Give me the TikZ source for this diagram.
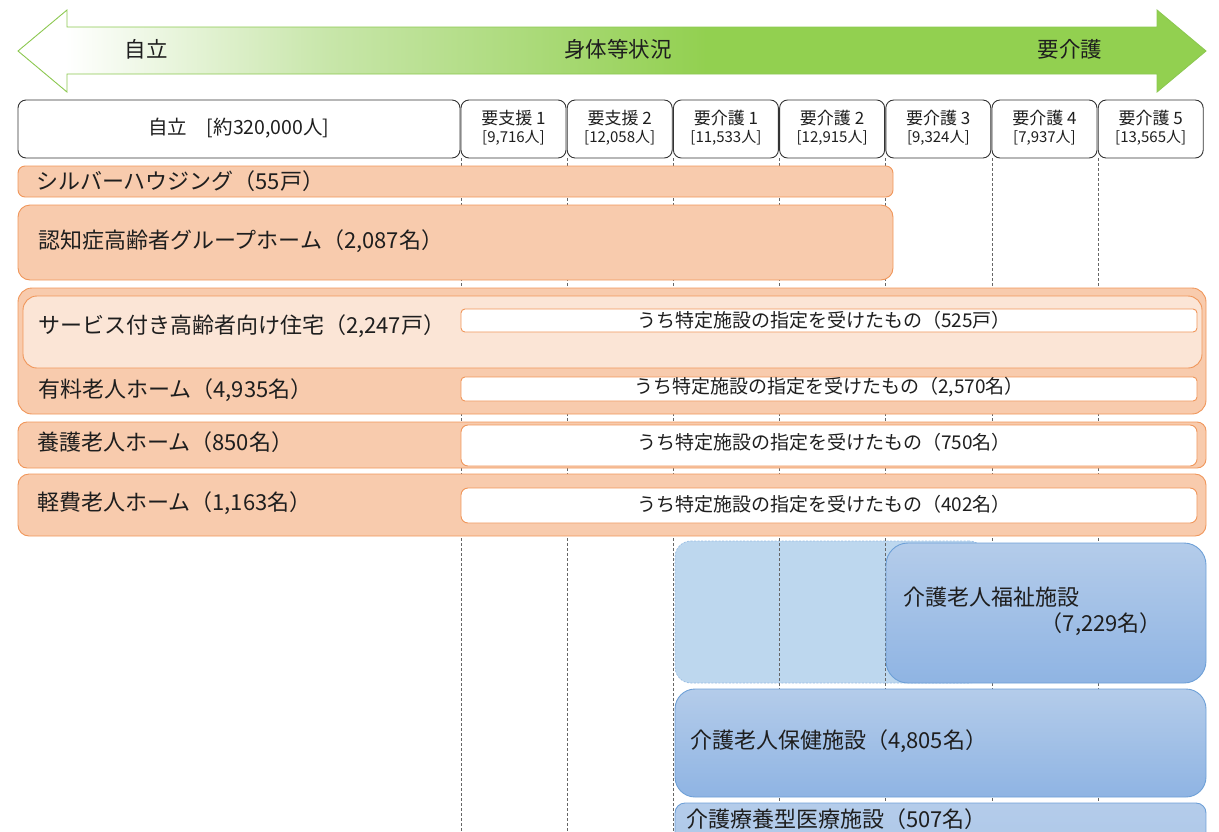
\documentclass[tikz,border=0pt]{standalone}
\usepackage{fontspec}
\setmainfont{Noto Sans CJK JP}
\definecolor{ofill}{RGB}{248,203,173}
\definecolor{oline}{RGB}{240,150,90}
\definecolor{olight}{RGB}{251,229,214}
\definecolor{bfilllt}{RGB}{189,215,238}
\definecolor{btop}{RGB}{180,204,234}
\definecolor{bbot}{RGB}{143,180,227}
\definecolor{bline}{RGB}{110,160,215}
\definecolor{gline}{RGB}{140,200,80}
\definecolor{ggreen}{RGB}{146,208,80}
\definecolor{glight}{RGB}{200,230,170}
\definecolor{txt}{RGB}{30,30,30}
\pgfdeclarehorizontalshading{arrowshade}{100bp}{color(0bp)=(white); color(27bp)=(white); color(38bp)=(glight); color(54bp)=(ggreen); color(100bp)=(ggreen)}
\begin{document}
\begin{tikzpicture}[x=1pt,y=-1pt,
  base/.style={anchor=north west, inner sep=0pt, outer sep=0pt},
  hbox/.style={base, draw=black!80, fill=white, line width=0.9pt, rounded corners=8pt},
  obox/.style={base, draw=oline, fill=ofill, line width=0.9pt, rounded corners=9pt},
  wbox/.style={base, draw=oline, fill=white, line width=0.9pt, rounded corners=5pt},
  bbox/.style={base, draw=bline, top color=btop, bottom color=bbot, line width=0.9pt, rounded corners=18pt},
  grid/.style={draw=black!60, dashed, dash pattern=on 3pt off 2pt, line width=0.7pt},
  ttl/.style={anchor=west, inner sep=0pt, text=txt, font=\fontsize{22}{25}\selectfont},
  sub/.style={anchor=center, inner sep=0pt, text=txt, font=\fontsize{19}{22}\selectfont},
  arr/.style={anchor=center, inner sep=0pt, text=txt, font=\fontsize{21.5}{24}\selectfont},
  hd/.style={anchor=center, inner sep=0pt, text=txt, align=center}
]
\useasboundingbox (0,0) rectangle (1219,831);
\clip (0,0) rectangle (1219,831);

% big double arrow
\path[shading=arrowshade, draw=gline, line width=0.9pt]
  (18,51) -- (67,10) -- (67,27) -- (1157,27) -- (1157,10) -- (1206,51)
  -- (1157,92) -- (1157,74) -- (67,74) -- (67,92) -- cycle;
\node[arr] (a1) at (146,49) {自立};
\node[arr] (a2) at (618,49) {身体等状況};
\node[arr] (a3) at (1070,49) {要介護};

% header
\node[hbox, minimum width=442pt, minimum height=58pt] (h0) at (18,100) {};
\node[hd, font=\fontsize{19.5}{22}\selectfont] (h0t) at (239,128) {自立　[約320,000人]};
\foreach \i/\a/\b in {0/要支援 1/{[9,716人]},1/要支援 2/{[12,058人]},2/要介護 1/{[11,533人]},3/要介護 2/{[12,915人]},4/要介護 3/{[9,324人]},5/要介護 4/{[7,937人]},6/要介護 5/{[13,565人]}}{
  \node[hbox, minimum width=105pt, minimum height=58pt] (h\i) at (461+106.2*\i,100) {};
  \node[hd, font=\fontsize{17}{20}\selectfont] (h\i a) at (513.5+106.2*\i,118) {\a};
  \node[hd, font=\fontsize{15}{18}\selectfont] (h\i b) at (513.5+106.2*\i,138) {\b};
}

% light blue dashed box (behind grid lines)
\node[base, draw=bline!70, fill=bfilllt, dashed, dash pattern=on 2pt off 1.5pt, line width=0.7pt, rounded corners=16pt, minimum width=310pt, minimum height=142pt] (lb) at (675,541) {};

% grid lines
\foreach \i in {0,...,6}{
  \coordinate (g\i) at (461+106.2*\i,831);
  \draw[grid] (h\i.south west) -- (g\i);
}

% orange boxes
\node[obox, minimum width=875pt, minimum height=31pt, rounded corners=7pt] (silver) at (18,166) {};
\node[ttl] (silvert) at (36,181) {シルバーハウジング（55戸）};
\node[obox, minimum width=875pt, minimum height=75pt, rounded corners=12pt] (gh) at (18,205) {};
\node[ttl] (ght) at (38,241) {認知症高齢者グループホーム（2,087名）};

\node[obox, minimum width=1188pt, minimum height=126pt, rounded corners=14pt] (yu) at (18,288) {};
\node[base, draw=oline, fill=olight, line width=0.9pt, rounded corners=14pt, minimum width=1179pt, minimum height=72pt] (sa) at (23,296) {};
\node[ttl] (sat) at (38,326) {サービス付き高齢者向け住宅（2,247戸）};
\node[wbox, minimum width=736pt, minimum height=23pt, rounded corners=4pt] (w1) at (461,309) {};
\node[sub] (w1t) at (824,320) {うち特定施設の指定を受けたもの（525戸）};
\node[ttl] (yut) at (38,390) {有料老人ホーム（4,935名）};
\node[wbox, minimum width=736pt, minimum height=24pt, rounded corners=4pt] (w2) at (461,377) {};
\node[sub] (w2t) at (829,387) {うち特定施設の指定を受けたもの（2,570名）};

\node[obox, minimum width=1188pt, minimum height=46pt, rounded corners=9pt] (yo) at (18,422) {};
\node[ttl] (yot) at (37,442) {養護老人ホーム（850名）};
\node[wbox, minimum width=736pt, minimum height=41pt, rounded corners=7pt] (w3) at (461,425) {};
\node[sub] (w3t) at (824,442) {うち特定施設の指定を受けたもの（750名）};

\node[obox, minimum width=1188pt, minimum height=62pt, rounded corners=11pt] (ke) at (18,474) {};
\node[ttl] (ket) at (37,503) {軽費老人ホーム（1,163名）};
\node[wbox, minimum width=736pt, minimum height=35pt, rounded corners=7pt] (w4) at (461,488) {};
\node[sub] (w4t) at (824,504) {うち特定施設の指定を受けたもの（402名）};

% blue boxes
\node[bbox, minimum width=320pt, minimum height=140pt, rounded corners=22pt] (tk) at (886,543) {};
\node[ttl] (tkt) at (903,597) {介護老人福祉施設};
\node[ttl, anchor=east] (tkn) at (1162,624) {（7,229名）};
\node[bbox, minimum width=531pt, minimum height=108pt, rounded corners=20pt] (rk) at (675,689) {};
\node[ttl] (rkt) at (690,741) {介護老人保健施設（4,805名）};
\node[bbox, minimum width=531pt, minimum height=60pt, rounded corners=10pt, top color=btop, bottom color=btop!80!bbot] (ry) at (675,803) {};
\node[ttl] (ryt) at (686,819) {介護療養型医療施設（507名）};
\end{tikzpicture}
\end{document}
